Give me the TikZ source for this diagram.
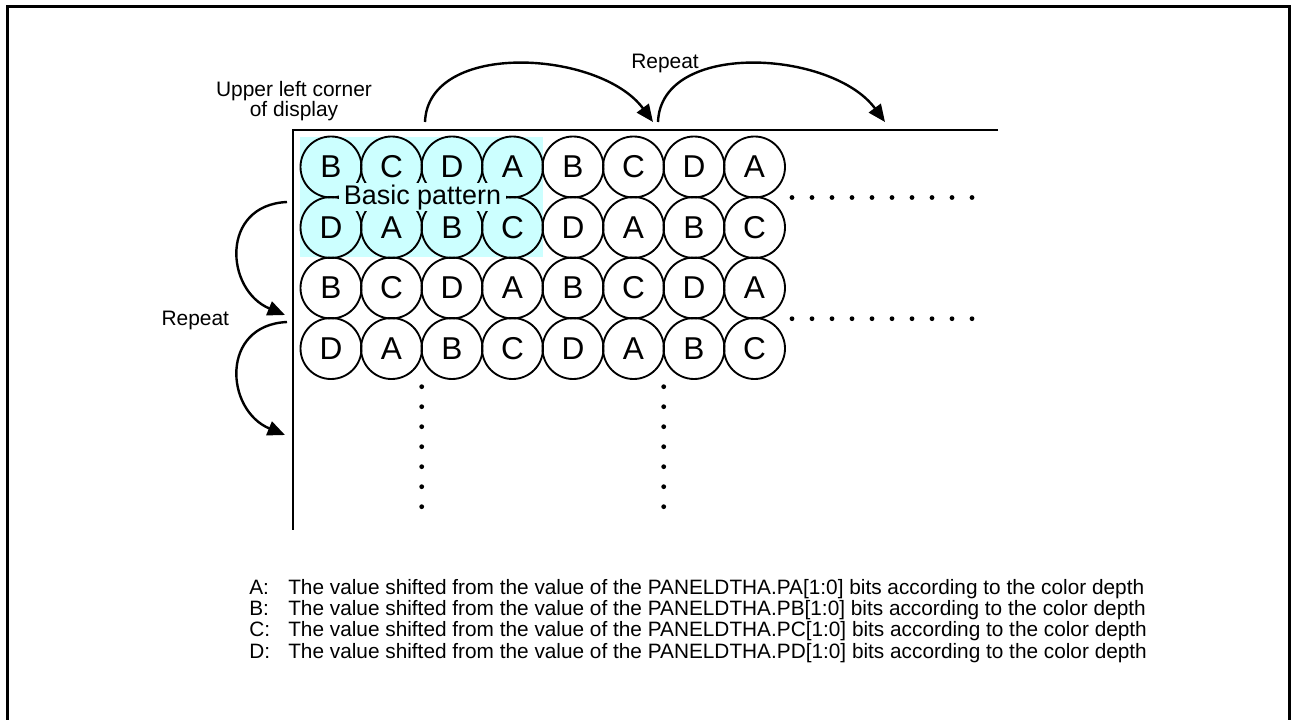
\documentclass[tikz,border=0pt]{standalone}
\usepackage{fontspec}
\setmainfont{Liberation Sans}
\usetikzlibrary{arrows.meta}
\definecolor{pat}{HTML}{CCFFFF}
\begin{document}
\begin{tikzpicture}[x=0.75pt,y=-0.75pt,
  cell/.style={circle,draw,line width=1.4pt,minimum size=45.75pt,inner sep=0pt,font=\fontsize{23.7pt}{24pt}\selectfont},
  lbl/.style={font=\fontsize{15.7pt}{16pt}\selectfont,inner sep=0pt,anchor=base},
  leg/.style={font=\fontsize{15.6pt}{16pt}\selectfont,inner sep=0pt,anchor=base west},
  arr/.style={line width=1.8pt,-{Triangle[length=13pt,width=11pt]}},
  dot/.style={circle,fill,inner sep=0pt,minimum size=3.6pt},
  axis/.style={line width=2.2pt,line join=miter},
  ]
\useasboundingbox (0,0) rectangle (1291,720);
\clip (0,0) rectangle (1291,720);
% outer frame
\draw[line width=2.25pt] (7.5,6.5) rectangle (1289.5,723);
% basic pattern background
\fill[pat] (300,137) rectangle (543,257);
% circles
\foreach \L [count=\i] in {B,C,D,A,B,C,D,A}
  \node[cell] (c1-\i) at ({331+60.5*(\i-1)},167) {\L};
\foreach \L [count=\i] in {D,A,B,C,D,A,B,C}
  \node[cell] (c2-\i) at ({331+60.5*(\i-1)},227.5) {\L};
\foreach \L [count=\i] in {B,C,D,A,B,C,D,A}
  \node[cell] (c3-\i) at ({331+60.5*(\i-1)},288) {\L};
\foreach \L [count=\i] in {D,A,B,C,D,A,B,C}
  \node[cell] (c4-\i) at ({331+60.5*(\i-1)},348.5) {\L};
% basic pattern label
\node[fill=pat,inner sep=0pt,minimum width=125pt,minimum height=21pt,
      font=\fontsize{20.2pt}{21pt}\selectfont] (bp) at (422.5,197.5) {Basic pattern};
% axes
\coordinate (org) at (293,130);
\coordinate (xend) at (998,130);
\coordinate (yend) at (293,530);
\draw[axis] (xend) -- (org) -- (yend);
% top repeat arrows
\coordinate (t1s) at (425,122);
\coordinate (t1e) at (653,122);
\coordinate (t2s) at (658,122);
\coordinate (t2e) at (885,122);
\draw[arr] (t1s) .. controls (428,40) and (600,50) .. (t1e);
\draw[arr] (t2s) .. controls (661,40) and (832,50) .. (t2e);
% left repeat arrows
\coordinate (l1s) at (287,202);
\coordinate (l1e) at (285,315);
\coordinate (l2s) at (287,322);
\coordinate (l2e) at (285,435);
\draw[arr] (l1s) .. controls (220,205) and (225,290) .. (l1e);
\draw[arr] (l2s) .. controls (220,325) and (225,410) .. (l2e);
% labels
\node[lbl] (ul1) at (294,96.7) {Upper left corner};
\node[lbl] (ul2) at (294,116.5) {of display};
\node[lbl] (rtop) at (665,68.3) {Repeat};
\node[lbl] (rleft) at (195.3,325) {Repeat};
% dots
\foreach \k in {0,...,9} {
  \node[dot] (h1-\k) at ({792+20*\k},197.5) {};
  \node[dot] (h2-\k) at ({792+20*\k},318.7) {};
}
\foreach \k in {0,...,6} {
  \node[dot] (v1-\k) at (421.7,{386.7+20*\k}) {};
  \node[dot] (v2-\k) at (663.7,{386.7+20*\k}) {};
}
% legend
\node[leg] (ka) at (249,594) {A:};
\node[leg] (da) at (288,594) {The value shifted from the value of the PANELDTHA.PA[1:0] bits according to the color depth};
\node[leg] (kb) at (249,615.3) {B:};
\node[leg] (db) at (288,615.3) {The value shifted from the value of the PANELDTHA.PB[1:0] bits according to the color depth};
\node[leg] (kc) at (249,636.6) {C:};
\node[leg] (dc) at (288,636.6) {The value shifted from the value of the PANELDTHA.PC[1:0] bits according to the color depth};
\node[leg] (kd) at (249,658) {D:};
\node[leg] (dd) at (288,658) {The value shifted from the value of the PANELDTHA.PD[1:0] bits according to the color depth};
\end{tikzpicture}
\end{document}
